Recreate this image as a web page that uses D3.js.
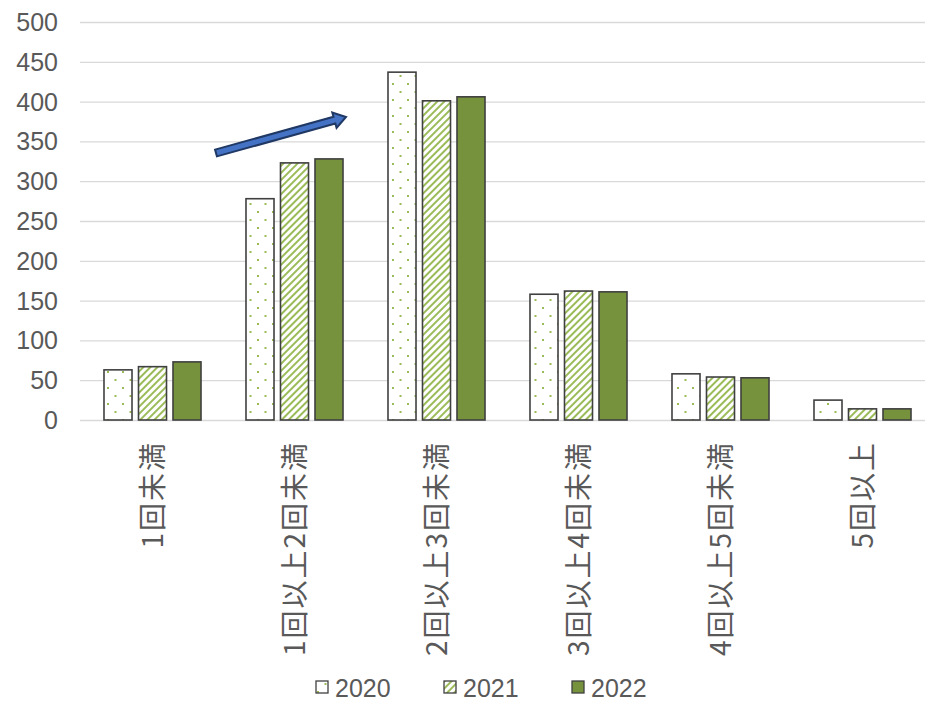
<!DOCTYPE html>
<html><head><meta charset="utf-8">
<script src="https://cdn.jsdelivr.net/npm/d3@7"></script>
<style>body{margin:0;background:#fff;}svg{display:block;}</style>
</head><body>
<script>
const categories = ["1回未満","1回以上2回未満","2回以上3回未満","3回以上4回未満","4回以上5回未満","5回以上"];
const years = ["2020","2021","2022"];
const v2020 = [63, 278, 437, 158, 58, 25];
const v2021 = [67, 323, 401, 162, 54, 14];
const v2022 = [73, 328, 406, 161, 53, 14];
const yTicks = [0,50,100,150,200,250,300,350,400,450,500];

const W = 925, H = 701;
const m = {left: 81.5, right: -8.5, top: 22, bottom: 281};
const svg = d3.select("body").append("svg").attr("width", W).attr("height", H);
const defs = svg.append("defs");

const green = "#76923C", light = "#9BBB59";
// dot pattern
const pd = defs.append("pattern").attr("id","dots").attr("patternUnits","userSpaceOnUse")
  .attr("width",15).attr("height",16).attr("x",2).attr("y",3);
pd.append("rect").attr("width",15).attr("height",16).attr("fill","#fff");
pd.append("rect").attr("x",0).attr("y",0).attr("width",2).attr("height",2).attr("fill",light);
pd.append("rect").attr("x",7.5).attr("y",8).attr("width",2).attr("height",2).attr("fill",light);
// hatch pattern
const ph = defs.append("pattern").attr("id","hatch").attr("patternUnits","userSpaceOnUse")
  .attr("width",5).attr("height",5).attr("patternTransform","rotate(45)");
ph.append("rect").attr("width",5).attr("height",5).attr("fill","#fff");
ph.append("rect").attr("x",0).attr("y",0).attr("width",2).attr("height",5).attr("fill",light);

const fills = ["url(#dots)","url(#hatch)",green];
const series = [v2020, v2021, v2022];

const x = d3.scaleBand().domain(categories).range([m.left, W - m.right]).paddingInner(0).paddingOuter(0);
const y = d3.scaleLinear().domain([0,500]).range([H - m.bottom, m.top]);
const xs = d3.scaleBand().domain(years).range([0, x.bandwidth()]).paddingInner(0.188).paddingOuter(0.652);

// grid
svg.append("g").selectAll("line").data(yTicks).join("line")
  .attr("x1", 80).attr("x2", W).attr("y1", d=>y(d)+0.5).attr("y2", d=>y(d)+0.5)
  .attr("stroke","#d9d9d9").attr("stroke-width",1.3);

// y axis labels
svg.append("g").selectAll("text").data(yTicks).join("text")
  .attr("x", 58).attr("y", d=>y(d)).attr("dy","0.36em").attr("text-anchor","end")
  .attr("font-family","Liberation Sans, Arial, sans-serif").attr("font-size",25)
  .attr("fill","#595959").text(d=>d);

// bars
const rows = [];
categories.forEach((c,i)=>years.forEach((yr,j)=>rows.push({c, yr, j, v: series[j][i]})));
svg.append("g").selectAll("rect").data(rows).join("rect")
  .attr("x", d=>x(d.c)+xs(d.yr)).attr("width", xs.bandwidth())
  .attr("y", d=>y(d.v)).attr("height", d=>y(0)-y(d.v))
  .attr("fill", d=>fills[d.j]).attr("stroke","#404040").attr("stroke-width",1.6);

// category labels (rotated)
svg.append("g").selectAll("text").data(categories).join("text")
  .attr("transform", d=>`translate(${x(d)+x.bandwidth()/2},441) rotate(-90)`)
  .attr("dy","0.36em").attr("text-anchor","end")
  .attr("font-family","'Noto Sans CJK JP', sans-serif").attr("font-size",28)
  .attr("letter-spacing","2px")
  .attr("fill","#595959").text(d=>d);

// arrow annotation
const a0 = [216,153], a1 = [346,117];
const ang = Math.atan2(a1[1]-a0[1], a1[0]-a0[0]);
const len = Math.hypot(a1[0]-a0[0], a1[1]-a0[1]);
const sw = 3.5, hw = 8, hl = 12;
const pts = [[0,-sw],[len-hl,-sw],[len-hl,-hw],[len,0],[len-hl,hw],[len-hl,sw],[0,sw]];
svg.append("polygon")
  .attr("points", pts.map(p=>p.join(",")).join(" "))
  .attr("transform", `translate(${a0[0]},${a0[1]}) rotate(${ang*180/Math.PI})`)
  .attr("fill","#4472C4").attr("stroke","#1F3864").attr("stroke-width",2).attr("stroke-linejoin","miter");

// legend
const lg = svg.append("g");
const lx = [316, 444, 572];
years.forEach((yr,j)=>{
  lg.append("rect").attr("x", lx[j]).attr("y", 681).attr("width", 12).attr("height", 12)
    .attr("fill", fills[j]).attr("stroke","#404040").attr("stroke-width",1.3);
  lg.append("text").attr("x", lx[j]+19).attr("y", 688).attr("dy","0.36em")
    .attr("font-family","Liberation Sans, Arial, sans-serif").attr("font-size",25)
    .attr("fill","#595959").text(yr);
});
</script>
</body></html>
